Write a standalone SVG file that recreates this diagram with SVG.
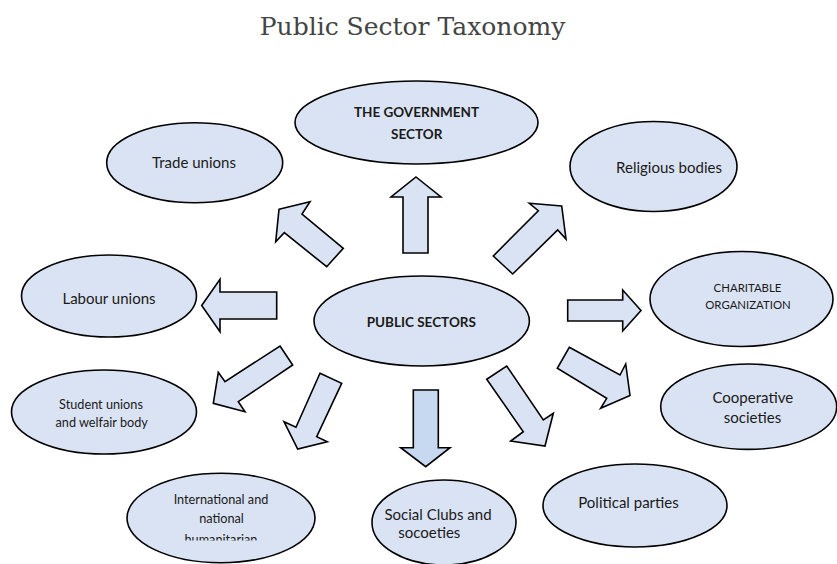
<svg xmlns="http://www.w3.org/2000/svg" width="837" height="564" viewBox="0 0 837 564">
  <style>
    .node { fill: #dae3f3; stroke: #000; stroke-width: 1.6; }
    .arrow { fill: #dae3f3; stroke: #000; stroke-width: 1.6; stroke-linejoin: miter; }
    .arrow.alt { fill: #c6d9f1; }
    .t { font-family: Lato, "Liberation Sans", sans-serif; fill: #1a1a1a; text-anchor: middle; }
    .lg { font-size: 15px; }
    .md { font-size: 12.7px; }
    .sm { font-size: 11.4px; }
    .b { font-weight: bold; font-size: 13.5px; }
    .title { font-family: "DejaVu Serif", "Liberation Serif", serif; font-size: 25px; fill: #444; text-anchor: middle; }
  </style>
  <defs>
    <clipPath id="clip-intl">
      <rect x="120" y="470" width="200" height="70.5"/>
    </clipPath>
  </defs>

  <rect width="837" height="564" fill="#fff"/>

  <text class="title" x="412.5" y="35">Public Sector Taxonomy</text>

  <!-- block arrows radiating from the centre node -->
  <g id="connectors">
    <!-- up -->
    <polygon class="arrow" points="416,177 441,197 428,197 428,253 403,253 403,197 391,197"/>
    <!-- up-left -->
    <polygon class="arrow" points="279,209.3 310,201.7 302,214 343.3,248.3 326.7,266.7 284.3,232.7 275.7,241.7"/>
    <!-- up-right -->
    <polygon class="arrow" points="561.7,206 529.3,203.3 538.3,210.7 493.3,256 512.7,274 557.7,230 566,239"/>
    <!-- left -->
    <polygon class="arrow" points="201.7,305.5 220,279.3 220,292 276.7,292 276.7,319 220,319 220,331.7"/>
    <!-- right -->
    <polygon class="arrow" points="641,310.5 622.7,290 622.7,300 567.7,300 567.7,321 622.7,321 622.7,331"/>
    <!-- down-left -->
    <polygon class="arrow" points="280,346 292.7,365 238.3,401.7 245,411.7 213.3,403.3 218.3,372.3 225,381.7"/>
    <!-- down-left, steep -->
    <polygon class="arrow" points="320,373.3 341.7,383.3 316.7,436.7 327.3,441.7 297.7,449 284,421.7 296,427.3"/>
    <!-- down -->
    <polygon class="arrow alt" points="413.3,390 438.3,390 438.3,447.7 450,447.7 425.7,466.7 400.7,447.7 413.3,447.7"/>
    <!-- down-right, steep -->
    <polygon class="arrow" points="506.7,366 543.3,420 553.3,413.3 545,446 510.7,441 523.3,431.7 486.7,379.3"/>
    <!-- down-right -->
    <polygon class="arrow" points="569.3,347.3 620,375 625.7,364 630,395.5 600.7,408.3 606.7,398.3 557.3,368.3"/>
  </g>

  <g id="government">
    <ellipse class="node" cx="416.5" cy="122.5" rx="121.5" ry="41.5"/>
    <text class="t b" x="416.5" y="117.3">THE GOVERNMENT</text>
    <text class="t b" x="416.7" y="139">SECTOR</text>
  </g>

  <g id="trade-unions">
    <ellipse class="node" cx="194.7" cy="162.7" rx="88" ry="40"/>
    <text class="t lg" x="194" y="168">Trade unions</text>
  </g>

  <g id="religious-bodies">
    <ellipse class="node" cx="653.5" cy="166.5" rx="83.5" ry="45"/>
    <text class="t lg" x="669" y="173">Religious bodies</text>
  </g>

  <g id="labour-unions">
    <ellipse class="node" cx="109" cy="296" rx="87.5" ry="41"/>
    <text class="t lg" x="109" y="304.3">Labour unions</text>
  </g>

  <g id="public-sectors">
    <ellipse class="node" cx="421.7" cy="321" rx="107.7" ry="45"/>
    <text class="t b" x="421.3" y="327.3">PUBLIC SECTORS</text>
  </g>

  <g id="charitable">
    <ellipse class="node" cx="741.5" cy="299" rx="91.5" ry="47.5"/>
    <text class="t sm" x="747.5" y="291.7">CHARITABLE</text>
    <text class="t sm" x="748" y="309.3">ORGANIZATION</text>
  </g>

  <g id="cooperative">
    <ellipse class="node" cx="748.7" cy="406.7" rx="88" ry="42.7"/>
    <text class="t lg" x="752.8" y="402.7">Cooperative</text>
    <text class="t lg" x="752.5" y="423.3">societies</text>
  </g>

  <g id="student-unions">
    <ellipse class="node" cx="104" cy="412" rx="92.5" ry="42"/>
    <text class="t md" x="101" y="409">Student unions</text>
    <text class="t md" x="101.7" y="426.7">and welfair body</text>
  </g>

  <g id="humanitarian">
    <ellipse class="node" cx="221" cy="518" rx="94" ry="44.7"/>
    <text class="t md" x="221" y="504">International and</text>
    <text class="t md" x="221.5" y="522.7">national</text>
    <text class="t md" x="221" y="544" clip-path="url(#clip-intl)">humanitarian</text>
  </g>

  <g id="social-clubs">
    <ellipse class="node" cx="444" cy="522.5" rx="72" ry="42.5"/>
    <text class="t lg" x="438" y="520">Social Clubs and</text>
    <text class="t lg" x="429.3" y="538.3">socoeties</text>
  </g>

  <g id="political-parties">
    <ellipse class="node" cx="635" cy="505.5" rx="92" ry="41.5"/>
    <text class="t lg" x="628.5" y="508.3">Political parties</text>
  </g>
</svg>
